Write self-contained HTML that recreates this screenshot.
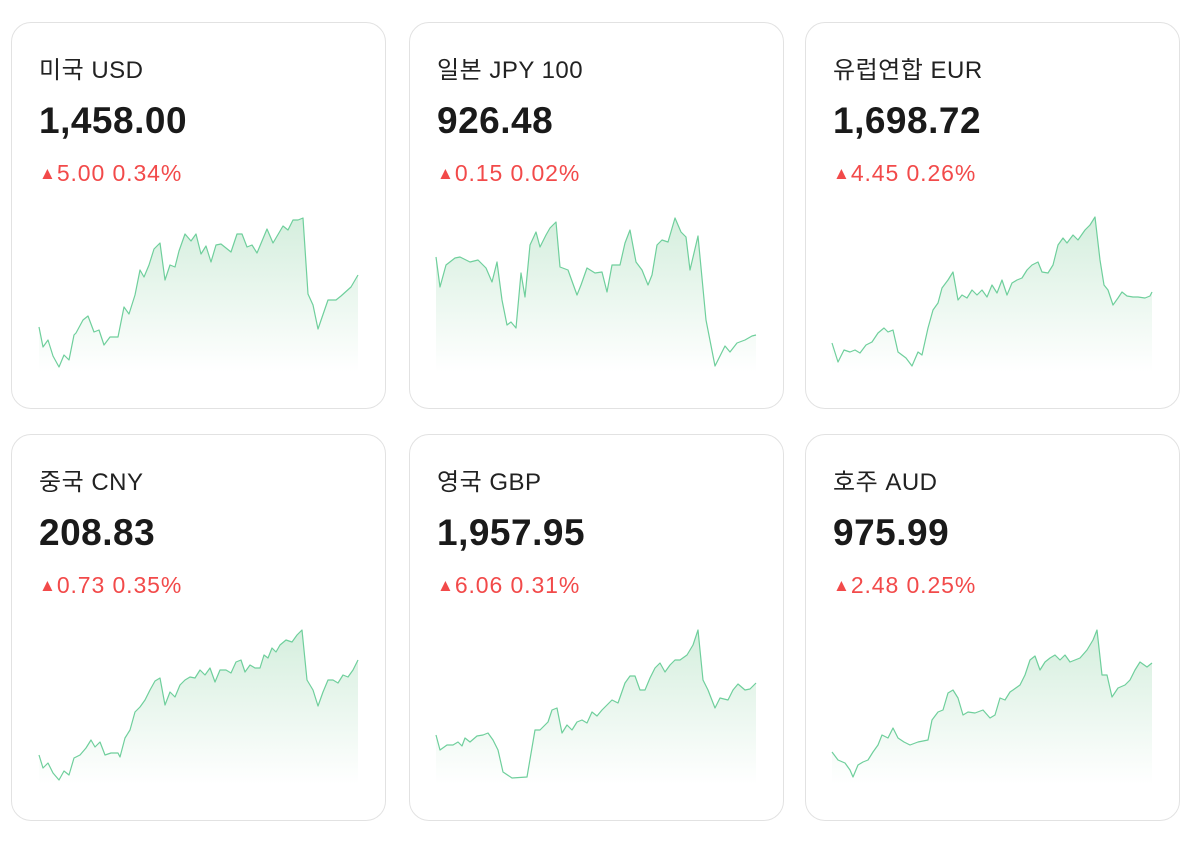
<!DOCTYPE html>
<html><head><meta charset="utf-8"><style>
body{margin:0;width:1200px;height:846px;background:#fff;position:relative;overflow:hidden;font-family:"Liberation Sans","Noto Sans CJK KR",sans-serif;}
.c{position:absolute;width:375px;height:387px;border:1.5px solid #e2e2e2;border-radius:20px;box-sizing:border-box;}
.t{position:absolute;left:27px;top:27px;font-size:24px;color:#222;letter-spacing:0.5px}
.v{position:absolute;left:27px;top:77px;font-size:37px;font-weight:bold;color:#1a1a1a;letter-spacing:0.5px}
.d{position:absolute;left:27px;top:137px;font-size:23px;color:#f24a4a;letter-spacing:0.9px}
.d span{font-size:17px;vertical-align:2px;margin-right:1px;letter-spacing:0}
svg{position:absolute;left:0;top:0}
</style></head><body>
<div class="c" style="left:11px;top:22px"><div class="t">미국 USD</div><div class="v">1,458.00</div><div class="d"><span>▲</span>5.00 0.34%</div></div>
<div class="c" style="left:409px;top:22px"><div class="t">일본 JPY 100</div><div class="v">926.48</div><div class="d"><span>▲</span>0.15 0.02%</div></div>
<div class="c" style="left:805px;top:22px"><div class="t">유럽연합 EUR</div><div class="v">1,698.72</div><div class="d"><span>▲</span>4.45 0.26%</div></div>
<div class="c" style="left:11px;top:434px"><div class="t">중국 CNY</div><div class="v">208.83</div><div class="d"><span>▲</span>0.73 0.35%</div></div>
<div class="c" style="left:409px;top:434px"><div class="t">영국 GBP</div><div class="v">1,957.95</div><div class="d"><span>▲</span>6.06 0.31%</div></div>
<div class="c" style="left:805px;top:434px"><div class="t">호주 AUD</div><div class="v">975.99</div><div class="d"><span>▲</span>2.48 0.25%</div></div>
<svg width="1200" height="846">
<defs>
<linearGradient id="g1" x1="0" y1="215" x2="0" y2="372" gradientUnits="userSpaceOnUse"><stop offset="0" stop-color="#d4eedd"/><stop offset="1" stop-color="#ffffff"/></linearGradient>
<linearGradient id="g2" x1="0" y1="627" x2="0" y2="784" gradientUnits="userSpaceOnUse"><stop offset="0" stop-color="#d4eedd"/><stop offset="1" stop-color="#ffffff"/></linearGradient>
</defs>
<g stroke="#6fcf9c" stroke-width="1.2" fill="none" stroke-linejoin="round">
<path d="M39,327 L43,347 48,340 53,356 59,367 64,355 69,360 74,335 76,333 83,320 88,316 94,332 99,330 104,345 110,337 118,337 124,307 129,314 135,295 140,270 144,277 149,265 154,249 160,243 165,280 170,265 175,267 179,251 185,234 191,241 196,234 201,254 206,246 211,262 216,245 221,244 231,252 237,234 242,234 247,247 252,245 257,253 267,229 273,243 283,226 288,230 293,220 298,220 303,218 308,294 313,305 318,329 328,300 336,300 341,296 351,287 358,275"/>
<path d="M436,257 L440,287 446,265 455,258 460,257 470,262 478,260 486,268 492,282 497,262 502,300 507,325 511,322 516,328 521,273 525,297 530,245 536,232 540,247 546,235 550,228 556,222 560,267 568,270 577,295 581,285 587,268 595,273 602,272 607,292 612,265 620,265 625,243 630,230 636,262 642,270 648,285 652,275 657,245 662,240 668,242 675,218 681,232 686,237 690,270 698,236 706,320 715,366 725,346 730,352 737,343 745,340 752,336 756,335"/>
<path d="M832,343 L838,362 844,350 850,352 855,350 860,353 866,345 872,342 878,333 884,328 888,332 893,330 898,352 906,358 912,366 918,352 922,355 928,328 933,310 938,303 942,288 948,280 953,272 958,300 962,295 967,298 972,290 977,295 982,290 987,297 992,285 997,293 1002,280 1007,295 1012,283 1017,280 1022,278 1027,270 1032,265 1038,262 1042,272 1048,273 1053,265 1058,245 1063,238 1067,243 1073,235 1078,240 1085,230 1090,225 1095,217 1100,260 1104,285 1108,290 1113,305 1118,298 1122,292 1127,296 1133,297 1138,297 1145,298 1150,296 1152,292"/>
<path d="M39,755 L43,768 48,763 53,773 59,780 64,771 69,775 74,758 80,755 86,748 91,740 95,747 100,742 105,755 111,753 118,753 120,757 125,738 130,730 135,712 140,707 145,700 150,690 155,681 160,678 165,705 170,692 175,697 180,685 185,680 190,677 195,678 200,670 205,675 210,668 215,682 220,670 226,670 231,673 236,662 241,660 245,672 250,665 255,668 260,668 264,655 268,658 272,648 276,652 280,645 286,640 292,642 297,635 302,630 307,680 313,690 318,706 323,692 328,680 333,680 338,683 343,675 348,677 353,670 358,660"/>
<path d="M436,735 L440,750 447,745 453,745 458,742 462,746 465,738 470,742 477,736 483,735 488,733 493,740 498,750 503,772 512,778 527,777 535,730 540,730 548,722 552,710 557,708 562,733 567,725 572,730 577,722 582,720 587,723 592,712 597,716 602,710 607,705 612,700 618,703 625,683 630,676 635,676 640,690 645,690 650,678 655,668 660,663 665,672 670,665 675,660 680,660 687,655 693,645 698,630 703,680 708,690 715,708 720,698 728,700 733,690 738,684 745,690 750,689 756,683"/>
<path d="M832,752 L838,760 845,763 850,770 853,777 858,765 863,762 868,760 873,752 878,745 882,735 888,738 893,728 898,738 904,742 910,745 918,742 928,740 932,720 938,712 943,710 948,693 953,690 958,698 963,715 968,712 975,713 983,710 990,718 995,715 1000,698 1005,700 1010,692 1013,690 1020,685 1025,675 1030,660 1035,656 1040,670 1045,662 1050,658 1055,655 1060,660 1065,655 1070,662 1075,660 1080,658 1087,650 1093,640 1097,630 1102,675 1107,675 1112,697 1118,688 1125,685 1130,680 1135,670 1140,662 1147,667 1152,663"/>
</g>
</svg>
<script>
(function(){var s=document.querySelector('svg'),ps=s.querySelectorAll('g path');ps.forEach(function(p,i){var d=p.getAttribute('d');var pts=d.replace(/[ML]/g,' ').trim().split(/\s+/);var first=pts[0].split(','),last=pts[pts.length-1].split(',');var by=i<3?372:784;var f=document.createElementNS('http://www.w3.org/2000/svg','path');f.setAttribute('d',d+' L'+last[0]+','+by+' L'+first[0]+','+by+' Z');f.setAttribute('fill',i<3?'url(#g1)':'url(#g2)');f.setAttribute('stroke','none');s.insertBefore(f,s.querySelector('g'));});})();
</script>
</body></html>
